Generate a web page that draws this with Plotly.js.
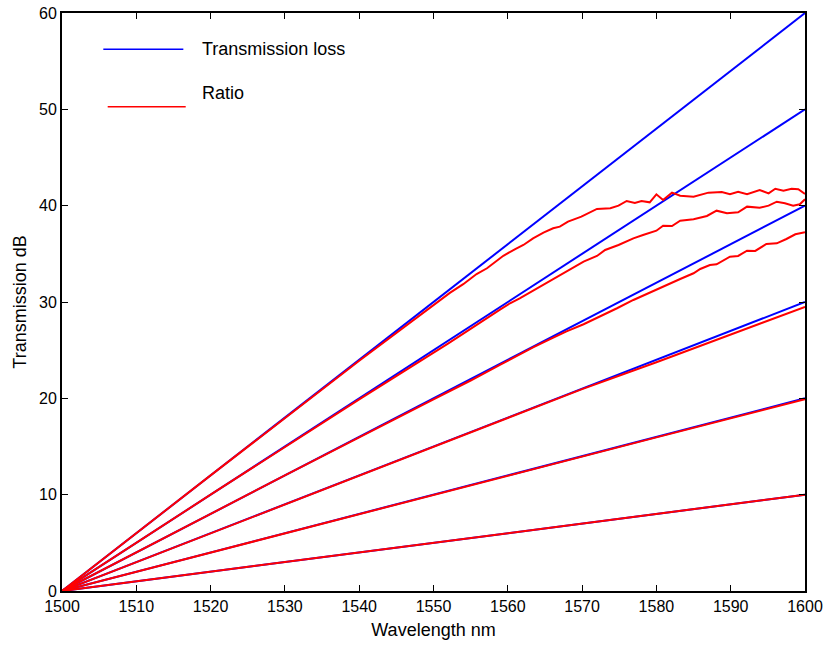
<!DOCTYPE html>
<html>
<head>
<meta charset="utf-8">
<script src="https://cdn.plot.ly/plotly-3.0.1.min.js"></script>
<style>html,body{margin:0;padding:0;background:#fff;}#chart{width:827px;height:647px;}</style>
</head>
<body>
<div id="chart"></div>
<script>
// Transmission loss (blue) straight lines: endpoints
const lossX = [1500, 1600];
const loss10 = [0, 10];
const loss20 = [0, 20];
const loss30 = [0, 30];
const loss40 = [0, 40];
const loss50 = [0, 50];
const loss60 = [0, 60];

// Ratio (red) curves
const ratio10X = [1500, 1550, 1600];
const ratio10Y = [0, 5, 10];
const ratio20X = [1500, 1550, 1580, 1600];
const ratio20Y = [0, 10, 15.95, 19.9];
const ratio30X = [1500, 1550, 1570, 1580, 1590, 1600];
const ratio30Y = [0, 15, 20.95, 23.75, 26.6, 29.5];
const ratio40X = [1500, 1530, 1550, 1555, 1559.0, 1561.2, 1563.4, 1565.7, 1567.9, 1570.2, 1572.4, 1574.7, 1576.9, 1579.1, 1581.4, 1583.2, 1585.0, 1585.9, 1587.2, 1588.1, 1589.9, 1591.0, 1592.2, 1593.3, 1594.8, 1596.2, 1597.5, 1598.7, 1600];
const ratio40Y = [0, 12, 19.9, 21.85, 23.5, 24.4, 25.3, 26.15, 26.95, 27.69, 28.48, 29.35, 30.21, 30.97, 31.84, 32.39, 32.98, 33.43, 33.84, 33.91, 34.70, 34.78, 35.33, 35.30, 36.02, 36.09, 36.54, 37.03, 37.24];
const ratio50X = [1500, 1520, 1540, 1545, 1552, 1559.0, 1560.3, 1561.6, 1563.4, 1564.8, 1566.1, 1567.9, 1570.2, 1572.0, 1573.1, 1574.9, 1576.9, 1578.2, 1580.0, 1580.9, 1582.1, 1583.2, 1585.0, 1586.8, 1588.1, 1589.5, 1591.0, 1592.2, 1593.9, 1595.1, 1596.2, 1597.3, 1598.4, 1599.3, 1600];
const ratio50Y = [0, 10, 19.9, 22.3, 25.7, 29.24, 29.87, 30.38, 31.17, 31.77, 32.36, 33.15, 34.19, 34.78, 35.40, 35.92, 36.61, 36.96, 37.40, 37.92, 37.89, 38.44, 38.59, 38.93, 39.48, 39.21, 39.31, 39.90, 39.79, 40.0, 40.41, 40.25, 40.0, 40.14, 40.66];
const ratio60X = [1500, 1520, 1540, 1545, 1549.5, 1552.2, 1554.0, 1555.8, 1557.2, 1559.4, 1561.0, 1562.1, 1563.4, 1564.8, 1566.1, 1567.0, 1568.1, 1569.9, 1572.0, 1573.8, 1574.9, 1576.0, 1577.1, 1578.0, 1579.1, 1580.0, 1580.9, 1582.1, 1583.2, 1585.0, 1587.0, 1588.8, 1589.9, 1591.0, 1592.2, 1593.9, 1595.1, 1596.0, 1597.1, 1598.2, 1599.1, 1600];
const ratio60Y = [0, 12, 23.9, 26.8, 29.4, 30.95, 31.85, 32.9, 33.50, 34.8, 35.5, 35.92, 36.61, 37.20, 37.65, 37.82, 38.34, 38.86, 39.66, 39.73, 40.0, 40.49, 40.28, 40.49, 40.35, 41.18, 40.59, 41.35, 41.04, 40.93, 41.35, 41.42, 41.18, 41.45, 41.18, 41.63, 41.28, 41.76, 41.56, 41.76, 41.70, 41.21];

const xTicks = [1500, 1510, 1520, 1530, 1540, 1550, 1560, 1570, 1580, 1590, 1600];
const yTicks = [0, 10, 20, 30, 40, 50, 60];
const legendNames = ["Transmission loss", "Ratio"];

const BLUE = "#0000ff", RED = "#ff0000";
const traces = [];
[loss10, loss20, loss30, loss40, loss50, loss60].forEach(y => {
  traces.push({x: lossX, y: y, type: "scatter", mode: "lines", line: {color: BLUE, width: 2}, showlegend: false, hoverinfo: "skip"});
});
[[ratio10X, ratio10Y], [ratio20X, ratio20Y], [ratio30X, ratio30Y], [ratio40X, ratio40Y], [ratio50X, ratio50Y], [ratio60X, ratio60Y]].forEach(p => {
  traces.push({x: p[0], y: p[1], type: "scatter", mode: "lines", line: {color: RED, width: 2}, showlegend: false, hoverinfo: "skip"});
});

const font = {family: "Liberation Sans, Arial, sans-serif", color: "#000"};
const layout = {
  width: 827, height: 647,
  margin: {l: 62, r: 22, t: 13, b: 56},
  paper_bgcolor: "#fff", plot_bgcolor: "#fff",
  font: Object.assign({size: 16}, font),
  showlegend: false,
  xaxis: {
    range: [1500, 1600], tickvals: xTicks, ticktext: xTicks.map(String),
    ticks: "inside", ticklen: 6, tickwidth: 1, tickcolor: "#000",
    showline: true, linecolor: "#000", linewidth: 2, mirror: "ticks",
    showgrid: false, zeroline: false,
    tickfont: Object.assign({size: 16}, font),
    title: {text: "Wavelength nm", font: Object.assign({size: 18}, font), standoff: 9}
  },
  yaxis: {
    range: [0, 60], tickvals: yTicks, ticktext: yTicks.map(String),
    ticks: "inside", ticklen: 6, tickwidth: 1, tickcolor: "#000",
    showline: true, linecolor: "#000", linewidth: 2, mirror: "ticks",
    showgrid: false, zeroline: false,
    tickfont: Object.assign({size: 16}, font),
    title: {text: "Transmission dB", font: Object.assign({size: 18}, font), standoff: 8}
  },
  shapes: [
    {type: "line", xref: "paper", yref: "paper", x0: 0.0556, x1: 0.1633, y0: 0.9372, y1: 0.9372, line: {color: BLUE, width: 1.5}},
    {type: "line", xref: "paper", yref: "paper", x0: 0.0615, x1: 0.1665, y0: 0.8377, y1: 0.8377, line: {color: RED, width: 1.5}}
  ],
  annotations: [
    {xref: "paper", yref: "paper", x: 0.1854, y: 0.9377, xanchor: "left", yanchor: "middle", text: legendNames[0], showarrow: false, font: Object.assign({size: 18}, font)},
    {xref: "paper", yref: "paper", x: 0.1854, y: 0.861, xanchor: "left", yanchor: "middle", text: legendNames[1], showarrow: false, font: Object.assign({size: 18}, font)}
  ]
};
Plotly.newPlot("chart", traces, layout, {displayModeBar: false, staticPlot: true});
</script>
</body>
</html>
